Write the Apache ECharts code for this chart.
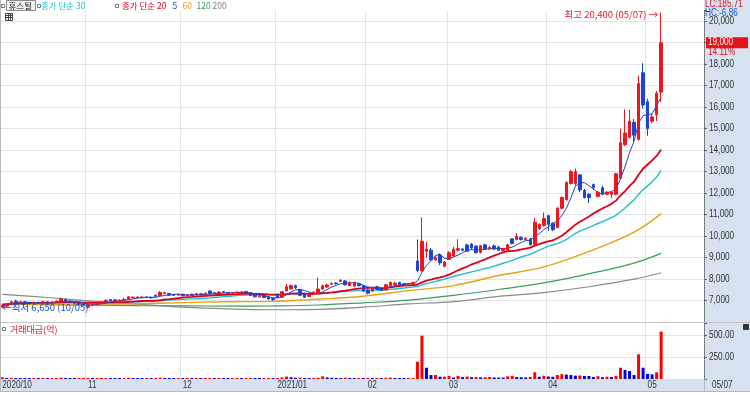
<!DOCTYPE html>
<html><head><meta charset="utf-8">
<script src="https://cdn.jsdelivr.net/npm/echarts@6/dist/echarts.min.js"></script>
<style>html,body{margin:0;padding:0;background:#fff}#c{width:750px;height:395px}</style>
</head><body><div id="c"></div>
<script>
// ---------- DATA ----------
const monthKeys = ['2020/10','2020/11','2020/12','2021/01','2021/02','2021/03','2021/04','2021/05'];
const monthLabels = ['2020/10','11','12','2021/01','02','03','04','05'];
const tradingDays = [
  [5,6,7,8,12,13,14,15,16,19,20,21,22,23,26,27,28,29,30],
  [2,3,4,5,6,9,10,11,12,13,16,17,18,19,20,23,24,25,26,27,30],
  [1,2,3,4,7,8,9,10,11,14,15,16,17,18,21,22,23,24,28,29,30],
  [4,5,6,7,8,11,12,13,14,15,18,19,20,21,22,25,26,27,28,29],
  [1,2,3,4,5,8,9,10,15,16,17,18,19,22,23,24,25,26],
  [2,3,4,5,8,9,10,11,12,15,16,17,18,19,22,23,24,25,26,29,30,31],
  [1,2,5,6,7,8,9,12,13,14,15,16,19,20,21,22,23,26,27,28,29,30],
  [3,4,6,7]
];
// [open, close, low, high]
const candles = [
[6700,6800,6650,6850],[6750,6850,6700,6900],[6850,6950,6800,7000],[6980,6920,6880,7050],[6900,6950,6850,7000],
[6950,6900,6850,6980],[6900,6880,6830,6950],[6880,6920,6850,6960],[6920,6900,6850,6950],[6900,6950,6880,7000],
[6950,6900,6870,6980],[6900,6930,6860,6970],[6930,6980,6900,7020],[6960,7080,6940,7150],[7050,6980,6950,7100],
[6980,6920,6880,7000],[6920,6880,6850,6960],[6880,6850,6800,6920],[6850,6800,6750,6880],
[6700,6800,6650,6830],[6780,6830,6750,6870],[6820,6880,6800,6910],[6880,6950,6850,6980],[6950,7020,6920,7060],
[7050,7000,6970,7080],[7040,7000,6970,7070],[7000,7030,6980,7060],[7030,7060,7000,7130],[7080,7180,7060,7220],
[7130,7160,7100,7200],[7170,7150,7120,7200],[7140,7170,7100,7200],[7170,7150,7120,7200],[7160,7130,7100,7190],
[7250,7200,7180,7290],[7230,7380,7200,7450],[7330,7370,7300,7420],[7340,7260,7230,7360],[7280,7250,7220,7300],
[7260,7290,7230,7320],
[7300,7230,7200,7320],[7240,7280,7220,7310],[7300,7250,7220,7330],[7260,7330,7240,7360],[7320,7280,7250,7350],
[7290,7350,7270,7380],[7450,7330,7300,7480],[7370,7340,7310,7400],[7350,7400,7320,7450],[7420,7370,7340,7450],
[7380,7350,7320,7410],[7340,7370,7310,7400],[7360,7400,7340,7430],[7380,7410,7350,7440],[7430,7350,7330,7450],
[7380,7240,7220,7400],[7280,7180,7150,7300],[7180,7230,7150,7260],[7240,7150,7120,7260],[7180,7080,7050,7200],
[7100,7050,7000,7130],
[7300,7170,7100,7320],[7160,7420,7140,7450],[7460,7650,7440,7780],[7550,7700,7520,7750],[7700,7600,7550,7750],
[7500,7250,7220,7550],[7340,7160,7130,7380],[7200,7280,7180,7320],[7300,7400,7270,7430],[7320,7540,7300,8080],
[7540,7690,7500,7750],[7640,7730,7600,7800],[7760,7800,7730,7850],[7820,7790,7750,7860],[7900,7950,7870,8000],
[7920,7740,7700,7950],[7700,7850,7680,7900],[7680,7850,7650,7880],[7780,7700,7650,7820],[7700,7450,7400,7720],
[7500,7350,7300,7550],[7450,7600,7400,7650],[7650,7550,7500,7700],[7560,7500,7450,7600],[7500,7740,7480,7780],
[7700,7850,7680,7900],[7750,7820,7720,7880],[7850,7750,7720,7880],[7780,7740,7700,7820],[7740,7800,7700,7830],
[7740,7850,7720,7880],[8850,8400,8340,9850],[8400,9770,8350,10880],[9300,9400,9000,9750],[9350,8900,8850,9450],
[8900,9000,8850,9100],[9120,8760,8650,9200],[8600,8800,8550,8850],
[8930,9230,8900,9300],[9080,9390,9050,9500],[9350,9420,9300,9860],[9400,9350,9300,9450],[9590,9300,9280,9650],
[9630,9450,9400,9680],[9540,9230,9200,9580],[9250,9560,9200,9600],[9600,9400,9380,9650],[9400,9480,9380,9550],
[9550,9400,9380,9620],[9500,9350,9320,9550],[9320,9420,9300,9450],[9300,9600,9280,9650],[9880,9660,9620,9900],
[9850,10000,9800,10150],[9950,9850,9800,10000],[9850,9900,9820,9950],[9880,9600,9570,9920],[9600,10650,9570,10850],
[10350,10550,10300,10600],[10500,10820,10450,11100],
[10950,10550,10250,11000],[10600,10300,10230,10650],[10400,11300,10380,11350],[11300,11800,11250,11850],
[11700,12500,11650,12550],[12450,13000,12400,13080],[12450,13000,12350,13150],[12850,12150,12050,12900],
[12120,11800,11750,12200],[11950,11800,11540,12000],[12400,12270,12150,12450],[11850,12050,11800,12100],
[12250,11950,11900,12350],[11950,12050,11900,12100],[11950,12050,11780,12100],[11950,12900,11900,12950],
[12700,14350,12650,15000],[14250,14800,14200,15900],[14600,15350,14550,15870],[15300,14700,14400,15450],
[14500,17100,14450,17470],[17600,16100,15930,18050],
[16250,15000,14670,16390],[15350,15550,15250,15700],[15650,16650,15360,16750],[16700,19000,16250,20400]
];
// 거래대금 (억)
const tradeValue = [
20,12,14,9,8,7,6,8,6,7,6,8,9,15,11,7,6,6,7,
9,7,8,10,12,9,8,7,9,14,10,8,7,8,7,9,16,12,9,7,8,
7,8,7,9,8,10,12,8,9,8,7,8,9,8,9,11,10,7,8,9,8,
10,18,28,20,14,15,11,9,10,13,30,18,14,12,11,15,12,10,11,10,
12,10,11,9,14,16,12,10,9,10,11,196,492,128,45,45,26,26,
36,17,36,22,28,20,22,18,20,24,18,17,16,30,36,22,20,18,24,77,26,36,
28,25,45,55,50,45,38,40,35,34,22,32,20,26,22,36,128,102,91,45,280,128,
57,53,76,538
];
// long moving averages: [day index, value]
const ma60Read = [[0,6820],[10,6820],[20,6840],[30,6860],[40,6910],[50,6950],[60,6970],[70,7070],[80,7210],[90,7470],[100,7700],[110,8170],[120,8570],[130,9290],[140,10190],[146,11050]];
const ma120Read = [[0,6850],[10,6820],[20,6790],[30,6770],[40,6760],[50,6750],[60,6760],[70,6800],[80,6900],[90,7030],[100,7250],[110,7520],[120,7830],[130,8250],[140,8750],[146,9200]];
const ma200Read = [[0,7290],[10,7150],[20,6980],[30,6840],[40,6700],[50,6620],[60,6580],[70,6600],[80,6700],[90,6850],[100,6960],[110,7200],[120,7380],[130,7650],[140,8000],[146,8300]];
const priceTicks = [7000,8000,9000,10000,11000,12000,13000,14000,15000,16000,17000,18000,19000,20000];
const volTicks = [250,500];
const PAD = 9;

// ---------- BUILD ----------
const NUM_FONT = "'Liberation Sans',Arial,sans-serif";
const KR_FONT = "'Noto Sans CJK KR',sans-serif";
const RED = '#f0141e', BLUE = '#1a46d2';
const SX = 0.82;

const dates = [], monthStart = [];
monthKeys.forEach((m,k)=>{ monthStart.push(dates.length); tradingDays[k].forEach(d=>dates.push(m+'/'+String(d).padStart(2,'0'))); });
const cats = dates.slice(); for (let k=0;k<PAD;k++) cats.push('pad'+k);
const startMap = new Map(monthStart.map((s,k)=>[s,monthLabels[k]]));
const closes = candles.map(c=>c[1]);
function ma(n){ return closes.map((_,i)=>{ const s=Math.max(0,i-n+1); let sum=0; for(let j=s;j<=i;j++) sum+=closes[j]; return +(sum/(i-s+1)).toFixed(1); }); }
function sparse(pts){ const a=new Array(closes.length).fill(null); pts.forEach(([i,v])=>{a[i]=v;}); return a; }
const volData = tradeValue.map((v,i)=>({value:v, itemStyle:{color: (i===0 || v>=tradeValue[i-1]) ? '#ff0000' : '#0000e8'}}));

let hiIdx=0, loIdx=0;
candles.forEach((c,i)=>{ if(c[3]>candles[hiIdx][3]) hiIdx=i; if(c[2]<candles[loIdx][2]) loIdx=i; });
const fmt = v=>v.toLocaleString('en-US');
const md = i=>dates[i].slice(5);

const lineS = (name,data,color,width,smooth)=>({type:'line',name,data,xAxisIndex:0,yAxisIndex:0,symbol:'none',connectNulls:true,smooth:smooth||false,
  lineStyle:{color,width},z:2,silent:true,animation:false});

const chart = echarts.init(document.getElementById('c'));
const option = {
  backgroundColor:'#ffffff',
  animation:false,
  grid:[
    {left:0,right:46,top:10.45,height:311.75,outerBoundsMode:'none',containLabel:false},
    {left:0,right:46,top:323,height:56,outerBoundsMode:'none',containLabel:false}
  ],
  xAxis:[
    {type:'category',gridIndex:0,data:cats,boundaryGap:true,axisLine:{show:false},axisTick:{show:false},axisLabel:{show:false},
     splitLine:{show:true,interval:(i)=>startMap.has(i),lineStyle:{color:'#e4e4e4',width:1}}},
    {type:'category',gridIndex:1,data:cats,boundaryGap:true,axisLine:{show:false},axisTick:{show:false},axisLabel:{show:false},
     splitLine:{show:true,interval:(i)=>startMap.has(i),lineStyle:{color:'#e4e4e4',width:1}}}
  ],
  yAxis:[
    {type:'value',gridIndex:0,position:'right',min:6000,max:20500,interval:1000,
     axisLine:{show:true,lineStyle:{color:'#666',type:'dotted'}},
     axisTick:{show:true,length:3,lineStyle:{color:'#666'}},
     axisLabel:{show:false},
     splitLine:{show:true,showMinLine:false,showMaxLine:false,lineStyle:{color:'#e4e4e4'}}},
    {type:'value',gridIndex:1,position:'right',min:0,max:636,interval:250,
     axisLine:{show:true,lineStyle:{color:'#666',type:'dotted'}},
     axisTick:{show:true,length:3,lineStyle:{color:'#666'}},
     axisLabel:{show:false},
     splitLine:{show:true,showMinLine:false,showMaxLine:false,lineStyle:{color:'#e4e4e4'}}}
  ],
  series:[
    lineS('MA200',sparse(ma200Read),'#8a8a8a',1.2,0.4),
    lineS('MA120',sparse(ma120Read),'#3a9e5a',1.2,0.4),
    lineS('MA60',sparse(ma60Read),'#e8a010',1.4,0.4),
    lineS('MA30',ma(30),'#22bfc4',1.4),
    lineS('MA20',ma(20),'#e0001a',1.8),
    {type:'candlestick',name:'휴스틸',data:candles,xAxisIndex:0,yAxisIndex:0,barWidth:3,z:3,silent:true,
     itemStyle:{color:RED,color0:BLUE,borderColor:RED,borderColor0:BLUE,borderWidth:1},
     markPoint:{symbol:'circle',symbolSize:0,silent:true,animation:false,
       data:[
        {coord:[hiIdx,candles[hiIdx][3]],label:{show:true,position:'left',distance:3,offset:[0,2],
          formatter:'최고 '+fmt(candles[hiIdx][3])+' ('+md(hiIdx)+') →',color:RED,fontSize:9.5,fontFamily:KR_FONT}},
        {coord:[loIdx,candles[loIdx][2]],label:{show:true,position:'right',distance:0,offset:[0,-1],
          formatter:'←최저 '+fmt(candles[loIdx][2])+' ('+md(loIdx)+')',color:BLUE,fontSize:9.5,fontFamily:KR_FONT}}
       ]}},
    lineS('MA5',ma(5),'#1f3fc8',1),
    {type:'bar',name:'거래대금',data:volData,xAxisIndex:1,yAxisIndex:1,barWidth:3,barMinHeight:1,silent:true,animation:false}
  ]
};
chart.setOption(option);

// ---------- decorations & labels ----------
const last = closes.length-1;
const lastY = chart.convertToPixel({yAxisIndex:0}, closes[last]);
const pct = ((closes[last]/closes[last-1]-1)*100).toFixed(2)+'%';
const panelBg = '#d6e2ef';
const t = (x,y,text,fill,font,size,extra)=>Object.assign({type:'text',silent:true,z:50,
  style:{x,y,text,fill,fontFamily:font,fontSize:size||10,verticalAlign:'middle',align:'left'}},extra||{});
const nt = (x,y,text,fill,z)=>({type:'text',silent:true,z:z||50,x,y,scaleX:SX,
  style:{x:0,y:0,text,fill,fontFamily:NUM_FONT,fontSize:10,verticalAlign:'middle',align:'left'}});
const icon = (x,y)=>({type:'rect',silent:true,z:50,shape:{x,y,width:3,height:3},style:{fill:'#fff',stroke:'#777',lineWidth:1}});
const graphics = [
  {type:'rect',silent:true,z:-10,shape:{x:704,y:0,width:46,height:379},style:{fill:panelBg}},
  {type:'rect',silent:true,z:-10,shape:{x:0,y:379,width:750,height:12},style:{fill:panelBg}},
  {type:'line',silent:true,z:40,shape:{x1:0,y1:322.5,x2:750,y2:322.5},style:{stroke:'#c4c4c4',lineWidth:1}},
  {type:'line',silent:true,z:40,shape:{x1:0.5,y1:0,x2:0.5,y2:391},style:{stroke:'#b8b8b8',lineWidth:1}},
  {type:'line',silent:true,z:40,shape:{x1:704.5,y1:379,x2:704.5,y2:391},style:{stroke:'#b0b8c4',lineWidth:1}},
  {type:'line',silent:true,z:40,shape:{x1:0,y1:391.5,x2:750,y2:391.5},style:{stroke:'#b8b8b8',lineWidth:1}},
  // legend row
  icon(1.5,4.5),
  {type:'rect',silent:true,z:50,shape:{x:6.5,y:0.5,width:29,height:10},style:{fill:'#f2f2f2',stroke:'#8a8a8a',lineWidth:1}},
  t(8.5,6,'휴스틸','#111',KR_FONT,8.5),
  icon(37.5,4.5),
  t(41,6,'종가 단순 30','#22bfc4',KR_FONT,8.5),
  icon(115.5,4.5),
  t(122,6,'종가 단순 20','#e0001a',KR_FONT,8.5),
  t(172.5,6,'5','#1f3fc8',KR_FONT,8.5),
  t(182.5,6,'60','#e8a010',KR_FONT,8.5),
  t(196.5,6,'120','#3a9e5a',KR_FONT,8.5),
  t(212.5,6,'200','#808080',KR_FONT,8.5),
  {type:'group',silent:true,z:50,children:[
    {type:'rect',z:50,shape:{x:5.5,y:13.5,width:7,height:7},style:{fill:'#fff',stroke:'#444',lineWidth:1}},
    {type:'line',z:50,shape:{x1:5.5,y1:15.5,x2:12.5,y2:15.5},style:{stroke:'#444'}},
    {type:'line',z:50,shape:{x1:5.5,y1:17.5,x2:12.5,y2:17.5},style:{stroke:'#444'}},
    {type:'line',z:50,shape:{x1:8.5,y1:13.5,x2:8.5,y2:20.5},style:{stroke:'#444'}},
    {type:'line',z:50,shape:{x1:10.5,y1:13.5,x2:10.5,y2:20.5},style:{stroke:'#444'}}
  ]},
  // right panel
  nt(705,4.5,'LC:185.71','#d01020'),
  nt(705,13.5,'HC:-6.86','#1a50d0'),
  {type:'rect',silent:true,z:60,shape:{x:706,y:lastY-5.5,width:42,height:11},style:{fill:'#e8121a'}},
  nt(708,lastY,fmt(closes[last]),'#ffffff',61),
  nt(708,lastY+9.5,pct,'#e0101a'),
  // volume panel
  icon(2.5,327.5),
  t(10,329.5,'거래대금(억)','#e0101a',KR_FONT,9),
  {type:'rect',silent:true,z:50,shape:{x:743.5,y:324.5,width:5,height:5},style:{fill:'#333',stroke:'#333'}},
  // last date in band
  nt(712,385,md(last),'#333')
];
priceTicks.forEach(v=>{
  if (v===closes[last]) return;
  graphics.push(nt(709, chart.convertToPixel({yAxisIndex:0}, v), fmt(v), '#333'));
});
volTicks.forEach(v=>{
  graphics.push(nt(709, chart.convertToPixel({yAxisIndex:1}, v), v.toFixed(2), '#333'));
});
monthStart.forEach((s,k)=>{
  const cx = chart.convertToPixel({xAxisIndex:1}, s);
  graphics.push(nt(cx, 385, monthLabels[k], '#333'));
});
chart.setOption({graphic:graphics});
</script>
</body></html>
